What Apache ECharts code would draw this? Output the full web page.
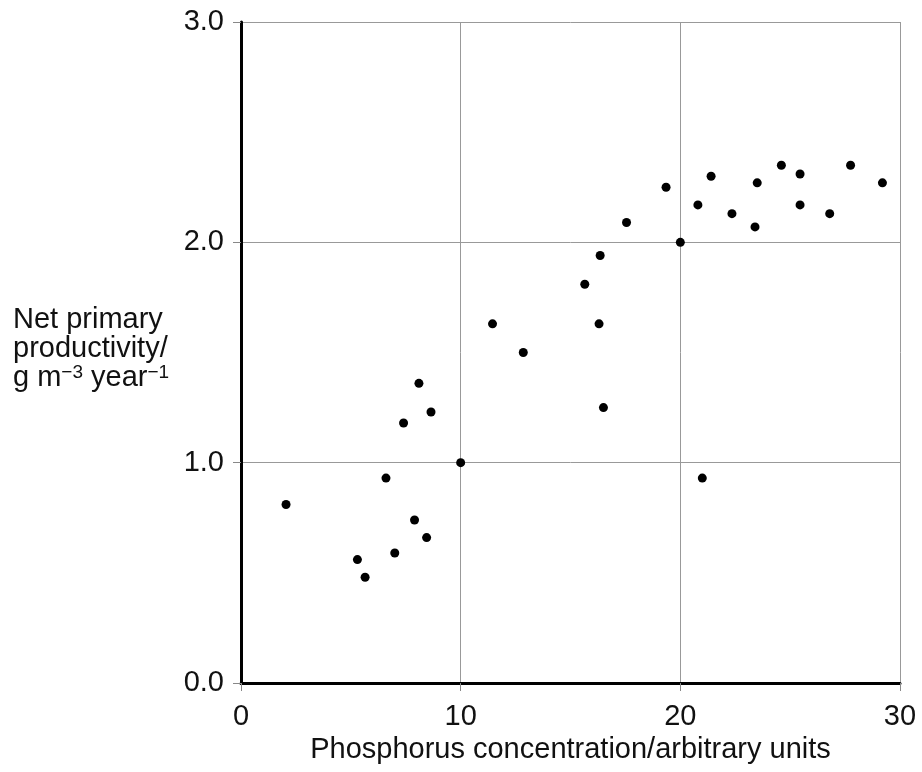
<!DOCTYPE html>
<html>
<head>
<meta charset="utf-8">
<script src="https://cdn.jsdelivr.net/npm/echarts@6/dist/echarts.min.js"></script>
<style>
  html, body { margin: 0; padding: 0; background: #fff; }
  #chart { width: 922px; height: 772px; }
</style>
</head>
<body>
<div id="chart"></div>
<script>
// 数据
var phosphorus = [2.05, 5.3, 5.65, 6.6, 7.0, 7.4, 7.9, 8.1, 8.45, 8.65, 10.0, 11.45, 12.85,
  15.65, 16.35, 16.3, 16.5, 17.55, 19.35, 20.0, 20.8, 21.0, 21.4, 22.35, 23.4, 23.5,
  24.6, 25.45, 25.45, 26.8, 27.75, 29.2];
var productivity = [0.81, 0.56, 0.48, 0.93, 0.59, 1.18, 0.74, 1.36, 0.66, 1.23, 1.0, 1.63, 1.50,
  1.81, 1.94, 1.63, 1.25, 2.09, 2.25, 2.0, 2.17, 0.93, 2.30, 2.13, 2.07, 2.27,
  2.35, 2.31, 2.17, 2.13, 2.35, 2.27];
var xTicks = [0, 10, 20, 30];
var yTicks = [0, 1, 2, 3];

var points = phosphorus.map(function (x, i) { return [x, productivity[i]]; });

var myChart = echarts.init(document.getElementById('chart'));
var font = 'Liberation Sans, Arial, sans-serif';

var option = {
  backgroundColor: '#fff',
  animation: false,
  grid: { left: 241, right: 22, top: 22, bottom: 89 },
  xAxis: {
    type: 'value',
    min: xTicks[0],
    max: xTicks[xTicks.length - 1],
    interval: 10,
    name: 'Phosphorus concentration/arbitrary units',
    nameLocation: 'middle',
    nameGap: 52,
    nameTextStyle: { color: '#111', fontSize: 29, fontFamily: font },
    axisLine: { onZero: false, lineStyle: { color: '#000', width: 3 } },
    axisTick: { show: true, length: 8, lineStyle: { color: '#888', width: 1 } },
    axisLabel: { color: '#111', fontSize: 29, fontFamily: font, margin: 19 },
    splitLine: { show: true, lineStyle: { color: '#999', width: 1 } }
  },
  yAxis: {
    type: 'value',
    min: yTicks[0],
    max: yTicks[yTicks.length - 1],
    interval: 1,
    name: 'Net primary\nproductivity/\ng m{sup|−3} year{sup|−1}',
    nameLocation: 'middle',
    nameRotate: 0,
    nameGap: 228,
    nameTextStyle: {
      color: '#111', fontSize: 29, fontFamily: font, align: 'left',
      verticalAlign: 'middle', lineHeight: 29, padding: [0, 0, 8, 0],
      rich: {
        sup: { fontSize: 19, fontFamily: font, color: '#111', verticalAlign: 'top', lineHeight: 20 }
      }
    },
    axisLine: { show: true, onZero: false, lineStyle: { color: '#000', width: 3 } },
    axisTick: { show: true, length: 8, lineStyle: { color: '#888', width: 1 } },
    axisLabel: {
      color: '#111', fontSize: 29, fontFamily: font, margin: 17,
      formatter: function (v) { return v.toFixed(1); }
    },
    splitLine: { show: true, lineStyle: { color: '#999', width: 1 } }
  },
  series: [{
    type: 'scatter',
    data: points,
    symbolSize: 9,
    itemStyle: { color: '#000', opacity: 1 }
  }]
};

myChart.setOption(option);
window.addEventListener('resize', function () { myChart.resize(); });
</script>
</body>
</html>
